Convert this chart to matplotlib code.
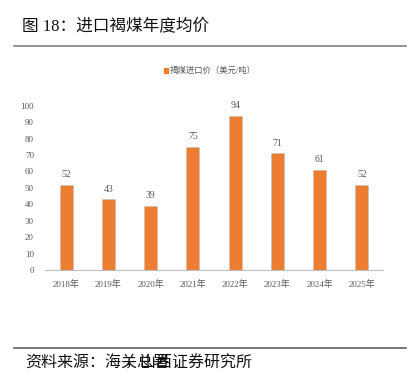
import matplotlib
matplotlib.use("Agg")
import matplotlib.pyplot as plt
from matplotlib.patches import Rectangle
from matplotlib.lines import Line2D

years = ['2018年', '2019年', '2020年', '2021年', '2022年', '2023年', '2024年', '2025年']
prices = [52, 43, 39, 75, 94, 71, 61, 52]
yticks = [0, 10, 20, 30, 40, 50, 60, 70, 80, 90, 100]

serif = ['Liberation Serif', 'Noto Sans CJK SC']
sans = ['Noto Sans CJK SC', 'DejaVu Sans']
gray = '#595959'
orange = '#ED7D31'

fig = plt.figure(figsize=(4.13, 3.85), dpi=100)

# header / footer
fig.text(22 / 413, 1 - 27 / 385, '图 18：进口褐煤年度均价', family=serif, fontsize=12,
         va='center', ha='left', color='#111111')
fig.add_artist(Line2D([14 / 413, 406 / 413], [1 - 45.5 / 385] * 2, color='#808080', lw=1.2))
fig.add_artist(Line2D([14 / 413, 406 / 413], [1 - 348 / 385] * 2, color='#606060', lw=1.2))
fig.text(25 / 413, 1 - 363 / 385, '资料来源：海关总署', family=sans, fontsize=11.5,
         va='center', ha='left', color='#111111')
fig.text(125 / 413, 1 - 363 / 385, '，山西证券研究所', family=sans, fontsize=11.5,
         va='center', ha='left', color='#111111')

# legend
fig.add_artist(Rectangle((163.5 / 413, 1 - 72.5 / 385), 4.5 / 413, 4.5 / 385,
                         color=orange, transform=fig.transFigure))
fig.text(170 / 413, 1 - 70.5 / 385, '褐煤进口价（美元/吨）', family=serif, fontsize=6,
         va='center', ha='left', color=gray)

ax = fig.add_axes([45 / 413, 115 / 385, 338 / 413, 164.3 / 385])
x = list(range(len(years)))
bars = ax.bar(x, prices, width=0.31, color=orange, edgecolor='#C0C0C0', linewidth=0.4)
for xi, v in zip(x, prices):
    ax.annotate(str(v), (xi, v), xytext=(0, 4), textcoords='offset points',
                ha='center', va='bottom', fontsize=7, color=gray, family=serif)

ax.set_xlim(-0.5, 7.5)
ax.set_ylim(0, 100)
ax.set_yticks(yticks)
ax.set_yticklabels([str(t) for t in yticks], family=serif, fontsize=6.5, color=gray)
ax.set_xticks(x)
ax.set_xticklabels(years, family=serif, fontsize=6.5, color=gray)
ax.tick_params(axis='both', length=0)
ax.tick_params(axis='y', pad=8)
ax.tick_params(axis='x', pad=7)
for s in ['top', 'right', 'left']:
    ax.spines[s].set_visible(False)
ax.spines['bottom'].set_color('#BFBFBF')
ax.spines['bottom'].set_linewidth(0.8)

fig.savefig('out.png', dpi=100)
